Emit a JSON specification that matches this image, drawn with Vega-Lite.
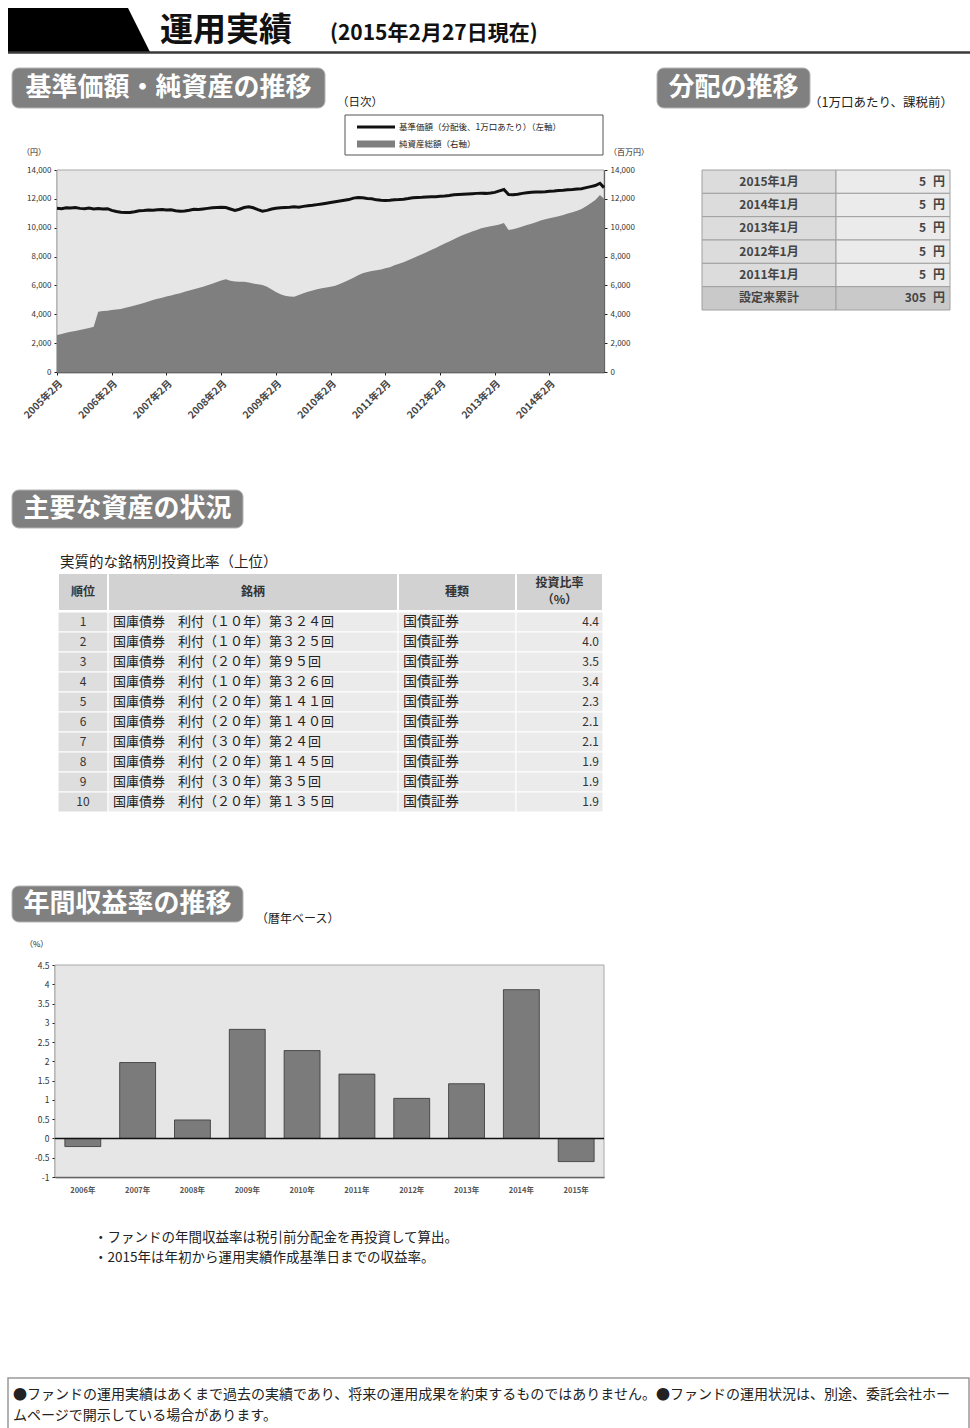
{
"$schema": "https://vega.github.io/schema/vega-lite/v6.json",
"width": 970, "height": 1428,
"autosize": {"type": "none"},
"padding": 0,
"background": "#ffffff",
"config": {
  "view": {"stroke": null},
  "font": "Noto Sans CJK JP",
  "text": {"font": "Noto Sans CJK JP", "color": "#222"},
  "axis": {"labelFont": "Noto Sans CJK JP", "titleFont": "Noto Sans CJK JP", "grid": false, "labelColor": "#333", "domainColor": "#222", "tickColor": "#222", "labelFontSize": 8}
},
"data": {"values": [{}]},
"datasets": {
  "fund": [
    {"日付":"2005-02-28","基準価額":11350,"純資産総額":2560},
    {"日付":"2005-03-31","基準価額":11320,"純資産総額":2640},
    {"日付":"2005-04-30","基準価額":11380,"純資産総額":2720},
    {"日付":"2005-05-31","基準価額":11360,"純資産総額":2790},
    {"日付":"2005-06-30","基準価額":11400,"純資産総額":2850},
    {"日付":"2005-07-31","基準価額":11340,"純資産総額":2910},
    {"日付":"2005-08-31","基準価額":11310,"純資産総額":2980},
    {"日付":"2005-09-30","基準価額":11360,"純資産総額":3050},
    {"日付":"2005-10-31","基準価額":11300,"純資産総額":3140},
    {"日付":"2005-11-30","基準価額":11330,"純資産総額":4180},
    {"日付":"2005-12-31","基準価額":11290,"純資産総額":4220},
    {"日付":"2006-01-31","基準価額":11320,"純資産総額":4250},
    {"日付":"2006-02-28","基準価額":11200,"純資産総額":4290},
    {"日付":"2006-03-31","基準価額":11120,"純資産総額":4330},
    {"日付":"2006-04-30","基準価額":11080,"純資産総額":4370},
    {"日付":"2006-05-31","基準価額":11060,"純資産総額":4450},
    {"日付":"2006-06-30","基準価額":11050,"純資産総額":4530},
    {"日付":"2006-07-31","基準価額":11110,"純資産総額":4610},
    {"日付":"2006-08-31","基準価額":11180,"純資産総額":4700},
    {"日付":"2006-09-30","基準価額":11200,"純資産総額":4780},
    {"日付":"2006-10-31","基準価額":11230,"純資産総額":4880},
    {"日付":"2006-11-30","基準価額":11210,"純資産総額":4990},
    {"日付":"2006-12-31","基準価額":11250,"純資産総額":5070},
    {"日付":"2007-01-31","基準価額":11260,"純資産総額":5150},
    {"日付":"2007-02-28","基準価額":11220,"純資産総額":5230},
    {"日付":"2007-03-31","基準価額":11240,"純資産総額":5310},
    {"日付":"2007-04-30","基準価額":11180,"純資産総額":5380},
    {"日付":"2007-05-31","基準価額":11140,"純資産総額":5450},
    {"日付":"2007-06-30","基準価額":11160,"純資産総額":5560},
    {"日付":"2007-07-31","基準価額":11210,"純資産総額":5650},
    {"日付":"2007-08-31","基準価額":11280,"純資産総額":5740},
    {"日付":"2007-09-30","基準価額":11260,"純資産総額":5820},
    {"日付":"2007-10-31","基準価額":11300,"純資産総額":5900},
    {"日付":"2007-11-30","基準価額":11340,"純資産総額":6010},
    {"日付":"2007-12-31","基準価額":11380,"純資産総額":6120},
    {"日付":"2008-01-31","基準価額":11400,"純資産総額":6240},
    {"日付":"2008-02-29","基準価額":11420,"純資産総額":6350},
    {"日付":"2008-03-31","基準価額":11400,"純資産総額":6420},
    {"日付":"2008-04-30","基準価額":11300,"純資産総額":6330},
    {"日付":"2008-05-31","基準価額":11200,"純資産総額":6270},
    {"日付":"2008-06-30","基準価額":11280,"純資産総額":6250},
    {"日付":"2008-07-31","基準価額":11400,"純資産総額":6260},
    {"日付":"2008-08-31","基準価額":11450,"純資産総額":6200},
    {"日付":"2008-09-30","基準価額":11380,"純資産総額":6130},
    {"日付":"2008-10-31","基準価額":11250,"純資産総額":6080},
    {"日付":"2008-11-30","基準価額":11150,"純資産総額":6030},
    {"日付":"2008-12-31","基準価額":11200,"純資産総額":5900},
    {"日付":"2009-01-31","基準価額":11300,"純資産総額":5720},
    {"日付":"2009-02-28","基準価額":11350,"純資産総額":5540},
    {"日付":"2009-03-31","基準価額":11380,"純資産総額":5380},
    {"日付":"2009-04-30","基準価額":11400,"純資産総額":5280},
    {"日付":"2009-05-31","基準価額":11420,"純資産総額":5240},
    {"日付":"2009-06-30","基準価額":11450,"純資産総額":5220},
    {"日付":"2009-07-31","基準価額":11420,"純資産総額":5340},
    {"日付":"2009-08-31","基準価額":11480,"純資産総額":5460},
    {"日付":"2009-09-30","基準価額":11520,"純資産総額":5560},
    {"日付":"2009-10-31","基準価額":11550,"純資産総額":5640},
    {"日付":"2009-11-30","基準価額":11600,"純資産総額":5730},
    {"日付":"2009-12-31","基準価額":11650,"純資産総額":5800},
    {"日付":"2010-01-31","基準価額":11700,"純資産総額":5860},
    {"日付":"2010-02-28","基準価額":11750,"純資産総額":5910},
    {"日付":"2010-03-31","基準価額":11800,"純資産総額":5980},
    {"日付":"2010-04-30","基準価額":11850,"純資産総額":6100},
    {"日付":"2010-05-31","基準価額":11900,"純資産総額":6230},
    {"日付":"2010-06-30","基準価額":11950,"純資産総額":6380},
    {"日付":"2010-07-31","基準価額":12050,"純資産総額":6540},
    {"日付":"2010-08-31","基準価額":12100,"純資産総額":6700},
    {"日付":"2010-09-30","基準価額":12080,"純資産総額":6840},
    {"日付":"2010-10-31","基準価額":12030,"純資産総額":6930},
    {"日付":"2010-11-30","基準価額":12000,"純資産総額":7000},
    {"日付":"2010-12-31","基準価額":11930,"純資産総額":7050},
    {"日付":"2011-01-31","基準価額":11900,"純資産総額":7110},
    {"日付":"2011-02-28","基準価額":11880,"純資産総額":7190},
    {"日付":"2011-03-31","基準価額":11900,"純資産総額":7260},
    {"日付":"2011-04-30","基準価額":11930,"純資産総額":7400},
    {"日付":"2011-05-31","基準価額":11950,"純資産総額":7500},
    {"日付":"2011-06-30","基準価額":11980,"純資産総額":7600},
    {"日付":"2011-07-31","基準価額":12020,"純資産総額":7740},
    {"日付":"2011-08-31","基準価額":12080,"純資産総額":7880},
    {"日付":"2011-09-30","基準価額":12100,"純資産総額":8020},
    {"日付":"2011-10-31","基準価額":12110,"純資産総額":8160},
    {"日付":"2011-11-30","基準価額":12130,"純資産総額":8300},
    {"日付":"2011-12-31","基準価額":12150,"純資産総額":8450},
    {"日付":"2012-01-31","基準価額":12150,"純資産総額":8600},
    {"日付":"2012-02-29","基準価額":12180,"純資産総額":8750},
    {"日付":"2012-03-31","基準価額":12200,"純資産総額":8900},
    {"日付":"2012-04-30","基準価額":12230,"純資産総額":9050},
    {"日付":"2012-05-31","基準価額":12280,"純資産総額":9200},
    {"日付":"2012-06-30","基準価額":12300,"純資産総額":9350},
    {"日付":"2012-07-31","基準価額":12320,"純資産総額":9500},
    {"日付":"2012-08-31","基準価額":12340,"純資産総額":9620},
    {"日付":"2012-09-30","基準価額":12360,"純資産総額":9740},
    {"日付":"2012-10-31","基準価額":12380,"純資産総額":9850},
    {"日付":"2012-11-30","基準価額":12390,"純資産総額":9960},
    {"日付":"2012-12-31","基準価額":12380,"純資産総額":10040},
    {"日付":"2013-01-31","基準価額":12400,"純資産総額":10100},
    {"日付":"2013-02-28","基準価額":12450,"純資産総額":10160},
    {"日付":"2013-03-31","基準価額":12550,"純資産総額":10220},
    {"日付":"2013-04-30","基準価額":12650,"純資産総額":10320},
    {"日付":"2013-05-31","基準価額":12300,"純資産総額":9840},
    {"日付":"2013-06-30","基準価額":12280,"純資産総額":9900},
    {"日付":"2013-07-31","基準価額":12320,"純資産総額":9980},
    {"日付":"2013-08-31","基準価額":12380,"純資産総額":10080},
    {"日付":"2013-09-30","基準価額":12420,"純資産総額":10180},
    {"日付":"2013-10-31","基準価額":12450,"純資産総額":10280},
    {"日付":"2013-11-30","基準価額":12470,"純資産総額":10380},
    {"日付":"2013-12-31","基準価額":12480,"純資産総額":10500},
    {"日付":"2014-01-31","基準価額":12500,"純資産総額":10580},
    {"日付":"2014-02-28","基準価額":12530,"純資産総額":10650},
    {"日付":"2014-03-31","基準価額":12550,"純資産総額":10720},
    {"日付":"2014-04-30","基準価額":12580,"純資産総額":10800},
    {"日付":"2014-05-31","基準価額":12600,"純資産総額":10880},
    {"日付":"2014-06-30","基準価額":12630,"純資産総額":10980},
    {"日付":"2014-07-31","基準価額":12650,"純資産総額":11080},
    {"日付":"2014-08-31","基準価額":12680,"純資産総額":11180},
    {"日付":"2014-09-30","基準価額":12700,"純資産総額":11300},
    {"日付":"2014-10-31","基準価額":12780,"純資産総額":11480},
    {"日付":"2014-11-30","基準価額":12850,"純資産総額":11700},
    {"日付":"2014-12-31","基準価額":12920,"純資産総額":11920},
    {"日付":"2015-01-31","基準価額":13080,"純資産総額":12270},
    {"日付":"2015-02-27","基準価額":12780,"純資産総額":12000}
  ],
  "dist": [
    {"決算期":"2015年1月","分配金":5},
    {"決算期":"2014年1月","分配金":5},
    {"決算期":"2013年1月","分配金":5},
    {"決算期":"2012年1月","分配金":5},
    {"決算期":"2011年1月","分配金":5},
    {"決算期":"設定来累計","分配金":305}
  ],
  "holdings": [
    {"順位":1,"銘柄":"国庫債券　利付（１０年）第３２４回","種類":"国債証券","投資比率":4.4},
    {"順位":2,"銘柄":"国庫債券　利付（１０年）第３２５回","種類":"国債証券","投資比率":4.0},
    {"順位":3,"銘柄":"国庫債券　利付（２０年）第９５回","種類":"国債証券","投資比率":3.5},
    {"順位":4,"銘柄":"国庫債券　利付（１０年）第３２６回","種類":"国債証券","投資比率":3.4},
    {"順位":5,"銘柄":"国庫債券　利付（２０年）第１４１回","種類":"国債証券","投資比率":2.3},
    {"順位":6,"銘柄":"国庫債券　利付（２０年）第１４０回","種類":"国債証券","投資比率":2.1},
    {"順位":7,"銘柄":"国庫債券　利付（３０年）第２４回","種類":"国債証券","投資比率":2.1},
    {"順位":8,"銘柄":"国庫債券　利付（２０年）第１４５回","種類":"国債証券","投資比率":1.9},
    {"順位":9,"銘柄":"国庫債券　利付（３０年）第３５回","種類":"国債証券","投資比率":1.9},
    {"順位":10,"銘柄":"国庫債券　利付（２０年）第１３５回","種類":"国債証券","投資比率":1.9}
  ],
  "returns": [
    {"年":"2006年","収益率":-0.21},
    {"年":"2007年","収益率":1.97},
    {"年":"2008年","収益率":0.48},
    {"年":"2009年","収益率":2.83},
    {"年":"2010年","収益率":2.28},
    {"年":"2011年","収益率":1.67},
    {"年":"2012年","収益率":1.04},
    {"年":"2013年","収益率":1.42},
    {"年":"2014年","収益率":3.86},
    {"年":"2015年","収益率":-0.60}
  ]
},
"resolve": {"scale": {"x": "independent", "y": "independent"}, "axis": {"x": "independent", "y": "independent"}},
"layer": [
  {
    "layer": [
      {"mark": {"type": "point", "shape": "M-1,-0.31L0.69,-0.31L1,0.31L-1,0.31Z", "size": 20164, "filled": true, "fill": "#000000", "opacity": 1, "strokeWidth": 0},
       "encoding": {"x": {"datum": 79, "type": "quantitative", "scale": {"domain": [0, 970], "range": [0, 970], "nice": false, "zero": false}, "axis": null},
                    "y": {"datum": 30, "type": "quantitative", "scale": {"domain": [0, 1428], "range": [0, 1428], "nice": false, "zero": false}, "axis": null}}},
      {"mark": {"type": "rule", "stroke": "#3a3a3a", "strokeWidth": 2.5},
       "encoding": {"x": {"datum": 8, "type": "quantitative", "scale": {"domain": [0, 970], "range": [0, 970], "nice": false, "zero": false}, "axis": null}, "x2": {"datum": 970},
                    "y": {"datum": 52.5, "type": "quantitative", "scale": {"domain": [0, 1428], "range": [0, 1428], "nice": false, "zero": false}, "axis": null}}},
      {"mark": {"type": "text", "align": "left", "baseline": "middle", "fontSize": 33, "fontWeight": "bold", "color": "#111"},
       "encoding": {"x": {"datum": 160, "type": "quantitative", "scale": {"domain": [0, 970], "range": [0, 970], "nice": false, "zero": false}, "axis": null},
                    "y": {"datum": 31, "type": "quantitative", "scale": {"domain": [0, 1428], "range": [0, 1428], "nice": false, "zero": false}, "axis": null},
                    "text": {"value": "運用実績"}}},
      {"mark": {"type": "text", "align": "left", "baseline": "middle", "fontSize": 21, "fontWeight": "bold", "color": "#111"},
       "encoding": {"x": {"datum": 330, "type": "quantitative", "scale": {"domain": [0, 970], "range": [0, 970], "nice": false, "zero": false}, "axis": null},
                    "y": {"datum": 34, "type": "quantitative", "scale": {"domain": [0, 1428], "range": [0, 1428], "nice": false, "zero": false}, "axis": null},
                    "text": {"value": "(2015年2月27日現在)"}}},
      {"mark": {"type": "rect", "fill": "#808080", "stroke": "#b5b5b5", "strokeWidth": 1, "cornerRadius": 7},
       "encoding": {"x": {"datum": 12, "type": "quantitative", "scale": {"domain": [0, 970], "range": [0, 970], "nice": false, "zero": false}, "axis": null}, "x2": {"datum": 325},
                    "y": {"datum": 68, "type": "quantitative", "scale": {"domain": [0, 1428], "range": [0, 1428], "nice": false, "zero": false}, "axis": null}, "y2": {"datum": 108}}},
      {"mark": {"type": "rect", "fill": "#808080", "stroke": "#b5b5b5", "strokeWidth": 1, "cornerRadius": 7},
       "encoding": {"x": {"datum": 657, "type": "quantitative", "scale": {"domain": [0, 970], "range": [0, 970], "nice": false, "zero": false}, "axis": null}, "x2": {"datum": 810},
                    "y": {"datum": 68, "type": "quantitative", "scale": {"domain": [0, 1428], "range": [0, 1428], "nice": false, "zero": false}, "axis": null}, "y2": {"datum": 108}}},
      {"mark": {"type": "rect", "fill": "#808080", "stroke": "#b5b5b5", "strokeWidth": 1, "cornerRadius": 7},
       "encoding": {"x": {"datum": 12, "type": "quantitative", "scale": {"domain": [0, 970], "range": [0, 970], "nice": false, "zero": false}, "axis": null}, "x2": {"datum": 243},
                    "y": {"datum": 490, "type": "quantitative", "scale": {"domain": [0, 1428], "range": [0, 1428], "nice": false, "zero": false}, "axis": null}, "y2": {"datum": 528}}},
      {"mark": {"type": "rect", "fill": "#808080", "stroke": "#b5b5b5", "strokeWidth": 1, "cornerRadius": 7},
       "encoding": {"x": {"datum": 12, "type": "quantitative", "scale": {"domain": [0, 970], "range": [0, 970], "nice": false, "zero": false}, "axis": null}, "x2": {"datum": 243},
                    "y": {"datum": 886, "type": "quantitative", "scale": {"domain": [0, 1428], "range": [0, 1428], "nice": false, "zero": false}, "axis": null}, "y2": {"datum": 922}}},
      {"mark": {"type": "text", "align": "center", "baseline": "middle", "fontSize": 26, "fontWeight": "bold", "color": "#ffffff"},
       "encoding": {"x": {"datum": 168.5, "type": "quantitative", "scale": {"domain": [0, 970], "range": [0, 970], "nice": false, "zero": false}, "axis": null},
                    "y": {"datum": 88, "type": "quantitative", "scale": {"domain": [0, 1428], "range": [0, 1428], "nice": false, "zero": false}, "axis": null},
                    "text": {"value": "基準価額・純資産の推移"}}},
      {"mark": {"type": "text", "align": "center", "baseline": "middle", "fontSize": 26, "fontWeight": "bold", "color": "#ffffff"},
       "encoding": {"x": {"datum": 733.5, "type": "quantitative", "scale": {"domain": [0, 970], "range": [0, 970], "nice": false, "zero": false}, "axis": null},
                    "y": {"datum": 88, "type": "quantitative", "scale": {"domain": [0, 1428], "range": [0, 1428], "nice": false, "zero": false}, "axis": null},
                    "text": {"value": "分配の推移"}}},
      {"mark": {"type": "text", "align": "center", "baseline": "middle", "fontSize": 26, "fontWeight": "bold", "color": "#ffffff"},
       "encoding": {"x": {"datum": 127.5, "type": "quantitative", "scale": {"domain": [0, 970], "range": [0, 970], "nice": false, "zero": false}, "axis": null},
                    "y": {"datum": 509, "type": "quantitative", "scale": {"domain": [0, 1428], "range": [0, 1428], "nice": false, "zero": false}, "axis": null},
                    "text": {"value": "主要な資産の状況"}}},
      {"mark": {"type": "text", "align": "center", "baseline": "middle", "fontSize": 26, "fontWeight": "bold", "color": "#ffffff"},
       "encoding": {"x": {"datum": 127.5, "type": "quantitative", "scale": {"domain": [0, 970], "range": [0, 970], "nice": false, "zero": false}, "axis": null},
                    "y": {"datum": 904, "type": "quantitative", "scale": {"domain": [0, 1428], "range": [0, 1428], "nice": false, "zero": false}, "axis": null},
                    "text": {"value": "年間収益率の推移"}}},
      {"mark": {"type": "text", "align": "left", "baseline": "middle", "fontSize": 11.5},
       "encoding": {"x": {"datum": 337, "type": "quantitative", "scale": {"domain": [0, 970], "range": [0, 970], "nice": false, "zero": false}, "axis": null},
                    "y": {"datum": 103, "type": "quantitative", "scale": {"domain": [0, 1428], "range": [0, 1428], "nice": false, "zero": false}, "axis": null},
                    "text": {"value": "（日次）"}}},
      {"mark": {"type": "text", "align": "left", "baseline": "middle", "fontSize": 12.5},
       "encoding": {"x": {"datum": 809, "type": "quantitative", "scale": {"domain": [0, 970], "range": [0, 970], "nice": false, "zero": false}, "axis": null},
                    "y": {"datum": 103, "type": "quantitative", "scale": {"domain": [0, 1428], "range": [0, 1428], "nice": false, "zero": false}, "axis": null},
                    "text": {"value": "（1万口あたり、課税前）"}}},
      {"mark": {"type": "text", "align": "left", "baseline": "middle", "fontSize": 12},
       "encoding": {"x": {"datum": 256, "type": "quantitative", "scale": {"domain": [0, 970], "range": [0, 970], "nice": false, "zero": false}, "axis": null},
                    "y": {"datum": 919, "type": "quantitative", "scale": {"domain": [0, 1428], "range": [0, 1428], "nice": false, "zero": false}, "axis": null},
                    "text": {"value": "（暦年ベース）"}}},
      {"mark": {"type": "text", "align": "left", "baseline": "middle", "fontSize": 8},
       "encoding": {"x": {"datum": 22, "type": "quantitative", "scale": {"domain": [0, 970], "range": [0, 970], "nice": false, "zero": false}, "axis": null},
                    "y": {"datum": 153, "type": "quantitative", "scale": {"domain": [0, 1428], "range": [0, 1428], "nice": false, "zero": false}, "axis": null},
                    "text": {"value": "（円）"}}},
      {"mark": {"type": "text", "align": "left", "baseline": "middle", "fontSize": 8},
       "encoding": {"x": {"datum": 609, "type": "quantitative", "scale": {"domain": [0, 970], "range": [0, 970], "nice": false, "zero": false}, "axis": null},
                    "y": {"datum": 153, "type": "quantitative", "scale": {"domain": [0, 1428], "range": [0, 1428], "nice": false, "zero": false}, "axis": null},
                    "text": {"value": "（百万円）"}}},
      {"mark": {"type": "text", "align": "left", "baseline": "middle", "fontSize": 8},
       "encoding": {"x": {"datum": 25, "type": "quantitative", "scale": {"domain": [0, 970], "range": [0, 970], "nice": false, "zero": false}, "axis": null},
                    "y": {"datum": 945, "type": "quantitative", "scale": {"domain": [0, 1428], "range": [0, 1428], "nice": false, "zero": false}, "axis": null},
                    "text": {"value": "（%）"}}},
      {"mark": {"type": "rect", "fill": "#ffffff", "stroke": "#555555", "strokeWidth": 1},
       "encoding": {"x": {"datum": 345, "type": "quantitative", "scale": {"domain": [0, 970], "range": [0, 970], "nice": false, "zero": false}, "axis": null}, "x2": {"datum": 603},
                    "y": {"datum": 115, "type": "quantitative", "scale": {"domain": [0, 1428], "range": [0, 1428], "nice": false, "zero": false}, "axis": null}, "y2": {"datum": 155}}},
      {"mark": {"type": "rule", "stroke": "#111111", "strokeWidth": 3},
       "encoding": {"x": {"datum": 357, "type": "quantitative", "scale": {"domain": [0, 970], "range": [0, 970], "nice": false, "zero": false}, "axis": null}, "x2": {"datum": 395},
                    "y": {"datum": 127, "type": "quantitative", "scale": {"domain": [0, 1428], "range": [0, 1428], "nice": false, "zero": false}, "axis": null}}},
      {"mark": {"type": "rule", "stroke": "#7f7f7f", "strokeWidth": 7},
       "encoding": {"x": {"datum": 357, "type": "quantitative", "scale": {"domain": [0, 970], "range": [0, 970], "nice": false, "zero": false}, "axis": null}, "x2": {"datum": 395},
                    "y": {"datum": 144, "type": "quantitative", "scale": {"domain": [0, 1428], "range": [0, 1428], "nice": false, "zero": false}, "axis": null}}},
      {"mark": {"type": "text", "align": "left", "baseline": "middle", "fontSize": 8.5},
       "encoding": {"x": {"datum": 399, "type": "quantitative", "scale": {"domain": [0, 970], "range": [0, 970], "nice": false, "zero": false}, "axis": null},
                    "y": {"datum": 127, "type": "quantitative", "scale": {"domain": [0, 1428], "range": [0, 1428], "nice": false, "zero": false}, "axis": null},
                    "text": {"value": "基準価額（分配後、1万口あたり）（左軸）"}}},
      {"mark": {"type": "text", "align": "left", "baseline": "middle", "fontSize": 8.5},
       "encoding": {"x": {"datum": 399, "type": "quantitative", "scale": {"domain": [0, 970], "range": [0, 970], "nice": false, "zero": false}, "axis": null},
                    "y": {"datum": 144, "type": "quantitative", "scale": {"domain": [0, 1428], "range": [0, 1428], "nice": false, "zero": false}, "axis": null},
                    "text": {"value": "純資産総額（右軸）"}}},
      {"mark": {"type": "text", "align": "left", "baseline": "middle", "fontSize": 14.5},
       "encoding": {"x": {"datum": 60, "type": "quantitative", "scale": {"domain": [0, 970], "range": [0, 970], "nice": false, "zero": false}, "axis": null},
                    "y": {"datum": 563, "type": "quantitative", "scale": {"domain": [0, 1428], "range": [0, 1428], "nice": false, "zero": false}, "axis": null},
                    "text": {"value": "実質的な銘柄別投資比率（上位）"}}},
      {"mark": {"type": "text", "align": "left", "baseline": "middle", "fontSize": 13.5},
       "encoding": {"x": {"datum": 94, "type": "quantitative", "scale": {"domain": [0, 970], "range": [0, 970], "nice": false, "zero": false}, "axis": null},
                    "y": {"datum": 1238, "type": "quantitative", "scale": {"domain": [0, 1428], "range": [0, 1428], "nice": false, "zero": false}, "axis": null},
                    "text": {"value": "・ファンドの年間収益率は税引前分配金を再投資して算出。"}}},
      {"mark": {"type": "text", "align": "left", "baseline": "middle", "fontSize": 13.5},
       "encoding": {"x": {"datum": 94, "type": "quantitative", "scale": {"domain": [0, 970], "range": [0, 970], "nice": false, "zero": false}, "axis": null},
                    "y": {"datum": 1258, "type": "quantitative", "scale": {"domain": [0, 1428], "range": [0, 1428], "nice": false, "zero": false}, "axis": null},
                    "text": {"value": "・2015年は年初から運用実績作成基準日までの収益率。"}}},
      {"mark": {"type": "rect", "fillOpacity": 0, "stroke": "#999999", "strokeWidth": 1.5},
       "encoding": {"x": {"datum": 8, "type": "quantitative", "scale": {"domain": [0, 970], "range": [0, 970], "nice": false, "zero": false}, "axis": null}, "x2": {"datum": 969},
                    "y": {"datum": 1378, "type": "quantitative", "scale": {"domain": [0, 1428], "range": [0, 1428], "nice": false, "zero": false}, "axis": null}, "y2": {"datum": 1445}}},
      {"mark": {"type": "text", "align": "left", "baseline": "middle", "fontSize": 14},
       "encoding": {"x": {"datum": 13, "type": "quantitative", "scale": {"domain": [0, 970], "range": [0, 970], "nice": false, "zero": false}, "axis": null},
                    "y": {"datum": 1395, "type": "quantitative", "scale": {"domain": [0, 1428], "range": [0, 1428], "nice": false, "zero": false}, "axis": null},
                    "text": {"value": "●ファンドの運用実績はあくまで過去の実績であり、将来の運用成果を約束するものではありません。●ファンドの運用状況は、別途、委託会社ホー"}}},
      {"mark": {"type": "text", "align": "left", "baseline": "middle", "fontSize": 14},
       "encoding": {"x": {"datum": 13, "type": "quantitative", "scale": {"domain": [0, 970], "range": [0, 970], "nice": false, "zero": false}, "axis": null},
                    "y": {"datum": 1416, "type": "quantitative", "scale": {"domain": [0, 1428], "range": [0, 1428], "nice": false, "zero": false}, "axis": null},
                    "text": {"value": "ムページで開示している場合があります。"}}}
    ]
  },
  {
    "resolve": {"scale": {"y": "independent"}, "axis": {"y": "independent"}},
    "layer": [
      {"mark": {"type": "rect", "fill": "#e6e6e6", "stroke": "#a8a8a8", "strokeWidth": 1},
       "encoding": {
         "x": {"datum": {"year": 2005, "month": 2, "date": 28, "utc": true}, "type": "temporal", "scale": {"type": "utc", "domain": [{"year": 2005, "month": 2, "date": 28, "utc": true}, {"year": 2015, "month": 2, "date": 27, "utc": true}], "range": [57, 604], "nice": false}, "title": null,
               "axis": {"orient": "bottom", "offset": -1056, "labelAngle": -45, "labelFontSize": 10, "labelFontWeight": "bold", "labelColor": "#444", "tickSize": 3, "labelPadding": 3, "domainWidth": 1.5,
                        "values": [{"year": 2005, "month": 2, "date": 28, "utc": true}, {"year": 2006, "month": 2, "date": 28, "utc": true}, {"year": 2007, "month": 2, "date": 28, "utc": true}, {"year": 2008, "month": 2, "date": 29, "utc": true}, {"year": 2009, "month": 2, "date": 28, "utc": true}, {"year": 2010, "month": 2, "date": 28, "utc": true}, {"year": 2011, "month": 2, "date": 28, "utc": true}, {"year": 2012, "month": 2, "date": 29, "utc": true}, {"year": 2013, "month": 2, "date": 28, "utc": true}, {"year": 2014, "month": 2, "date": 28, "utc": true}],
                        "labelExpr": "utcFormat(datum.value, '%Y年%-m月')"}},
         "x2": {"datum": {"year": 2015, "month": 2, "date": 27, "utc": true}},
         "y": {"datum": 0, "type": "quantitative", "scale": {"domain": [0, 14000], "range": [372, 170], "nice": false, "zero": false}, "axis": null},
         "y2": {"datum": 14000}}},
      {"data": {"name": "fund"},
       "mark": {"type": "area", "fill": "#7f7f7f", "opacity": 1},
       "encoding": {
         "x": {"field": "日付", "type": "temporal", "scale": {"type": "utc", "domain": [{"year": 2005, "month": 2, "date": 28, "utc": true}, {"year": 2015, "month": 2, "date": 27, "utc": true}], "range": [57, 604], "nice": false}, "title": null,
               "axis": {"orient": "bottom", "offset": -1056, "labelAngle": -45, "labelFontSize": 10, "labelFontWeight": "bold", "labelColor": "#444", "tickSize": 3, "labelPadding": 3, "domainWidth": 1.5,
                        "values": [{"year": 2005, "month": 2, "date": 28, "utc": true}, {"year": 2006, "month": 2, "date": 28, "utc": true}, {"year": 2007, "month": 2, "date": 28, "utc": true}, {"year": 2008, "month": 2, "date": 29, "utc": true}, {"year": 2009, "month": 2, "date": 28, "utc": true}, {"year": 2010, "month": 2, "date": 28, "utc": true}, {"year": 2011, "month": 2, "date": 28, "utc": true}, {"year": 2012, "month": 2, "date": 29, "utc": true}, {"year": 2013, "month": 2, "date": 28, "utc": true}, {"year": 2014, "month": 2, "date": 28, "utc": true}],
                        "labelExpr": "utcFormat(datum.value, '%Y年%-m月')"}},
         "y": {"field": "純資産総額", "type": "quantitative", "scale": {"domain": [0, 14000], "range": [372, 170], "nice": false}, "title": null,
               "axis": {"orient": "right", "offset": -366, "values": [0, 2000, 4000, 6000, 8000, 10000, 12000, 14000], "labelExpr": "format(datum.value, ',')", "tickSize": 3, "labelPadding": 3, "labelFontSize": 8, "domainWidth": 1.2}}}},
      {"data": {"name": "fund"},
       "mark": {"type": "line", "stroke": "#111111", "strokeWidth": 3},
       "encoding": {
         "x": {"field": "日付", "type": "temporal", "scale": {"type": "utc", "domain": [{"year": 2005, "month": 2, "date": 28, "utc": true}, {"year": 2015, "month": 2, "date": 27, "utc": true}], "range": [57, 604], "nice": false}, "title": null,
               "axis": {"orient": "bottom", "offset": -1056, "labelAngle": -45, "labelFontSize": 10, "labelFontWeight": "bold", "labelColor": "#444", "tickSize": 3, "labelPadding": 3, "domainWidth": 1.5,
                        "values": [{"year": 2005, "month": 2, "date": 28, "utc": true}, {"year": 2006, "month": 2, "date": 28, "utc": true}, {"year": 2007, "month": 2, "date": 28, "utc": true}, {"year": 2008, "month": 2, "date": 29, "utc": true}, {"year": 2009, "month": 2, "date": 28, "utc": true}, {"year": 2010, "month": 2, "date": 28, "utc": true}, {"year": 2011, "month": 2, "date": 28, "utc": true}, {"year": 2012, "month": 2, "date": 29, "utc": true}, {"year": 2013, "month": 2, "date": 28, "utc": true}, {"year": 2014, "month": 2, "date": 28, "utc": true}],
                        "labelExpr": "utcFormat(datum.value, '%Y年%-m月')"}},
         "y": {"field": "基準価額", "type": "quantitative", "scale": {"domain": [0, 14000], "range": [372, 170], "nice": false}, "title": null,
               "axis": {"orient": "left", "offset": -57, "values": [0, 2000, 4000, 6000, 8000, 10000, 12000, 14000], "labelExpr": "format(datum.value, ',')", "tickSize": 3, "labelPadding": 3, "labelFontSize": 8, "domainWidth": 1.5}}}}
    ]
  },
  {
    "data": {"name": "dist"},
    "layer": [
      {"mark": {"type": "rect", "stroke": "#a0a0a0", "strokeWidth": 1},
       "encoding": {
         "x": {"datum": 0, "type": "quantitative", "scale": {"domain": [0, 1, 2], "range": [702, 836, 950], "nice": false, "zero": false}, "axis": null},
         "x2": {"datum": 1},
         "y": {"field": "決算期", "type": "nominal", "scale": {"type": "band", "domain": ["2015年1月", "2014年1月", "2013年1月", "2012年1月", "2011年1月", "設定来累計"], "range": [170, 310], "paddingInner": 0, "paddingOuter": 0}, "axis": null},
         "fill": {"condition": {"test": "datum['決算期'] === '設定来累計'", "value": "#c9c9c9"}, "value": "#dcdcdc"}}},
      {"mark": {"type": "rect", "stroke": "#a0a0a0", "strokeWidth": 1},
       "encoding": {
         "x": {"datum": 1, "type": "quantitative", "scale": {"domain": [0, 1, 2], "range": [702, 836, 950], "nice": false, "zero": false}, "axis": null},
         "x2": {"datum": 2},
         "y": {"field": "決算期", "type": "nominal", "scale": {"type": "band", "domain": ["2015年1月", "2014年1月", "2013年1月", "2012年1月", "2011年1月", "設定来累計"], "range": [170, 310], "paddingInner": 0, "paddingOuter": 0}, "axis": null},
         "fill": {"condition": {"test": "datum['決算期'] === '設定来累計'", "value": "#c9c9c9"}, "value": "#ebebeb"}}},
      {"mark": {"type": "text", "align": "center", "baseline": "middle", "fontSize": 12, "fontWeight": "bold", "color": "#444"},
       "encoding": {
         "x": {"datum": 0.5, "type": "quantitative", "scale": {"domain": [0, 1, 2], "range": [702, 836, 950], "nice": false, "zero": false}, "axis": null},
         "y": {"field": "決算期", "type": "nominal", "scale": {"type": "band", "domain": ["2015年1月", "2014年1月", "2013年1月", "2012年1月", "2011年1月", "設定来累計"], "range": [170, 310], "paddingInner": 0, "paddingOuter": 0}, "axis": null},
         "text": {"field": "決算期"}}},
      {"mark": {"type": "text", "align": "right", "baseline": "middle", "fontSize": 12, "fontWeight": "bold", "color": "#444", "dx": -24},
       "encoding": {
         "x": {"datum": 2, "type": "quantitative", "scale": {"domain": [0, 1, 2], "range": [702, 836, 950], "nice": false, "zero": false}, "axis": null},
         "y": {"field": "決算期", "type": "nominal", "scale": {"type": "band", "domain": ["2015年1月", "2014年1月", "2013年1月", "2012年1月", "2011年1月", "設定来累計"], "range": [170, 310], "paddingInner": 0, "paddingOuter": 0}, "axis": null},
         "text": {"field": "分配金", "type": "quantitative", "format": "d"}}},
      {"mark": {"type": "text", "align": "right", "baseline": "middle", "fontSize": 12, "fontWeight": "bold", "color": "#444", "dx": -5},
       "encoding": {
         "x": {"datum": 2, "type": "quantitative", "scale": {"domain": [0, 1, 2], "range": [702, 836, 950], "nice": false, "zero": false}, "axis": null},
         "y": {"field": "決算期", "type": "nominal", "scale": {"type": "band", "domain": ["2015年1月", "2014年1月", "2013年1月", "2012年1月", "2011年1月", "設定来累計"], "range": [170, 310], "paddingInner": 0, "paddingOuter": 0}, "axis": null},
         "text": {"value": "円"}}}
    ]
  },
  {
    "resolve": {"scale": {"y": "independent"}},
    "layer": [
      {
        "layer": [
          {"mark": {"type": "rect", "fill": "#d2d2d2", "stroke": "#ffffff", "strokeWidth": 2},
           "encoding": {"x": {"datum": 0, "type": "quantitative", "scale": {"domain": [0, 1, 2, 3, 4], "range": [58, 108, 398, 516, 603], "nice": false, "zero": false}, "axis": null}, "x2": {"datum": 1},
                        "y": {"datum": 0, "type": "quantitative", "scale": {"domain": [0, 1], "range": [573, 611], "nice": false, "zero": false}, "axis": null}, "y2": {"datum": 1}}},
          {"mark": {"type": "rect", "fill": "#d2d2d2", "stroke": "#ffffff", "strokeWidth": 2},
           "encoding": {"x": {"datum": 1, "type": "quantitative", "scale": {"domain": [0, 1, 2, 3, 4], "range": [58, 108, 398, 516, 603], "nice": false, "zero": false}, "axis": null}, "x2": {"datum": 2},
                        "y": {"datum": 0, "type": "quantitative", "scale": {"domain": [0, 1], "range": [573, 611], "nice": false, "zero": false}, "axis": null}, "y2": {"datum": 1}}},
          {"mark": {"type": "rect", "fill": "#d2d2d2", "stroke": "#ffffff", "strokeWidth": 2},
           "encoding": {"x": {"datum": 2, "type": "quantitative", "scale": {"domain": [0, 1, 2, 3, 4], "range": [58, 108, 398, 516, 603], "nice": false, "zero": false}, "axis": null}, "x2": {"datum": 3},
                        "y": {"datum": 0, "type": "quantitative", "scale": {"domain": [0, 1], "range": [573, 611], "nice": false, "zero": false}, "axis": null}, "y2": {"datum": 1}}},
          {"mark": {"type": "rect", "fill": "#d2d2d2", "stroke": "#ffffff", "strokeWidth": 2},
           "encoding": {"x": {"datum": 3, "type": "quantitative", "scale": {"domain": [0, 1, 2, 3, 4], "range": [58, 108, 398, 516, 603], "nice": false, "zero": false}, "axis": null}, "x2": {"datum": 4},
                        "y": {"datum": 0, "type": "quantitative", "scale": {"domain": [0, 1], "range": [573, 611], "nice": false, "zero": false}, "axis": null}, "y2": {"datum": 1}}},
          {"mark": {"type": "text", "align": "center", "baseline": "middle", "fontSize": 12, "fontWeight": "bold", "color": "#333"},
           "encoding": {"x": {"datum": 0.5, "type": "quantitative", "scale": {"domain": [0, 1, 2, 3, 4], "range": [58, 108, 398, 516, 603], "nice": false, "zero": false}, "axis": null},
                        "y": {"datum": 0.5, "type": "quantitative", "scale": {"domain": [0, 1], "range": [573, 611], "nice": false, "zero": false}, "axis": null},
                        "text": {"value": "順位"}}},
          {"mark": {"type": "text", "align": "center", "baseline": "middle", "fontSize": 12, "fontWeight": "bold", "color": "#333"},
           "encoding": {"x": {"datum": 1.5, "type": "quantitative", "scale": {"domain": [0, 1, 2, 3, 4], "range": [58, 108, 398, 516, 603], "nice": false, "zero": false}, "axis": null},
                        "y": {"datum": 0.5, "type": "quantitative", "scale": {"domain": [0, 1], "range": [573, 611], "nice": false, "zero": false}, "axis": null},
                        "text": {"value": "銘柄"}}},
          {"mark": {"type": "text", "align": "center", "baseline": "middle", "fontSize": 12, "fontWeight": "bold", "color": "#333"},
           "encoding": {"x": {"datum": 2.5, "type": "quantitative", "scale": {"domain": [0, 1, 2, 3, 4], "range": [58, 108, 398, 516, 603], "nice": false, "zero": false}, "axis": null},
                        "y": {"datum": 0.5, "type": "quantitative", "scale": {"domain": [0, 1], "range": [573, 611], "nice": false, "zero": false}, "axis": null},
                        "text": {"value": "種類"}}},
          {"mark": {"type": "text", "align": "center", "baseline": "middle", "fontSize": 12, "fontWeight": "bold", "color": "#333", "lineHeight": 17},
           "encoding": {"x": {"datum": 3.5, "type": "quantitative", "scale": {"domain": [0, 1, 2, 3, 4], "range": [58, 108, 398, 516, 603], "nice": false, "zero": false}, "axis": null},
                        "y": {"datum": 0.27, "type": "quantitative", "scale": {"domain": [0, 1], "range": [573, 611], "nice": false, "zero": false}, "axis": null},
                        "text": {"value": ["投資比率", "（%）"]}}}
        ]
      },
      {
        "data": {"name": "holdings"},
        "layer": [
          {"mark": {"type": "rect", "fill": "#dedede", "stroke": "#ffffff", "strokeWidth": 1},
           "encoding": {"x": {"datum": 0, "type": "quantitative", "scale": {"domain": [0, 1, 2, 3, 4], "range": [58, 108, 398, 516, 603], "nice": false, "zero": false}, "axis": null}, "x2": {"datum": 1},
                        "y": {"field": "順位", "type": "ordinal", "scale": {"type": "band", "domain": [1, 2, 3, 4, 5, 6, 7, 8, 9, 10], "range": [612, 812], "paddingInner": 0, "paddingOuter": 0}, "axis": null}}},
          {"mark": {"type": "rect", "fill": "#ebebeb", "stroke": "#ffffff", "strokeWidth": 1},
           "encoding": {"x": {"datum": 1, "type": "quantitative", "scale": {"domain": [0, 1, 2, 3, 4], "range": [58, 108, 398, 516, 603], "nice": false, "zero": false}, "axis": null}, "x2": {"datum": 2},
                        "y": {"field": "順位", "type": "ordinal", "scale": {"type": "band", "domain": [1, 2, 3, 4, 5, 6, 7, 8, 9, 10], "range": [612, 812], "paddingInner": 0, "paddingOuter": 0}, "axis": null}}},
          {"mark": {"type": "rect", "fill": "#ebebeb", "stroke": "#ffffff", "strokeWidth": 1},
           "encoding": {"x": {"datum": 2, "type": "quantitative", "scale": {"domain": [0, 1, 2, 3, 4], "range": [58, 108, 398, 516, 603], "nice": false, "zero": false}, "axis": null}, "x2": {"datum": 3},
                        "y": {"field": "順位", "type": "ordinal", "scale": {"type": "band", "domain": [1, 2, 3, 4, 5, 6, 7, 8, 9, 10], "range": [612, 812], "paddingInner": 0, "paddingOuter": 0}, "axis": null}}},
          {"mark": {"type": "rect", "fill": "#ebebeb", "stroke": "#ffffff", "strokeWidth": 1},
           "encoding": {"x": {"datum": 3, "type": "quantitative", "scale": {"domain": [0, 1, 2, 3, 4], "range": [58, 108, 398, 516, 603], "nice": false, "zero": false}, "axis": null}, "x2": {"datum": 4},
                        "y": {"field": "順位", "type": "ordinal", "scale": {"type": "band", "domain": [1, 2, 3, 4, 5, 6, 7, 8, 9, 10], "range": [612, 812], "paddingInner": 0, "paddingOuter": 0}, "axis": null}}},
          {"mark": {"type": "text", "align": "center", "baseline": "middle", "fontSize": 12, "color": "#333"},
           "encoding": {"x": {"datum": 0.5, "type": "quantitative", "scale": {"domain": [0, 1, 2, 3, 4], "range": [58, 108, 398, 516, 603], "nice": false, "zero": false}, "axis": null},
                        "y": {"field": "順位", "type": "ordinal", "scale": {"type": "band", "domain": [1, 2, 3, 4, 5, 6, 7, 8, 9, 10], "range": [612, 812], "paddingInner": 0, "paddingOuter": 0}, "axis": null},
                        "text": {"field": "順位"}}},
          {"mark": {"type": "text", "align": "left", "baseline": "middle", "fontSize": 13, "color": "#222", "dx": 5},
           "encoding": {"x": {"datum": 1, "type": "quantitative", "scale": {"domain": [0, 1, 2, 3, 4], "range": [58, 108, 398, 516, 603], "nice": false, "zero": false}, "axis": null},
                        "y": {"field": "順位", "type": "ordinal", "scale": {"type": "band", "domain": [1, 2, 3, 4, 5, 6, 7, 8, 9, 10], "range": [612, 812], "paddingInner": 0, "paddingOuter": 0}, "axis": null},
                        "text": {"field": "銘柄"}}},
          {"mark": {"type": "text", "align": "left", "baseline": "middle", "fontSize": 14, "color": "#222", "dx": 5},
           "encoding": {"x": {"datum": 2, "type": "quantitative", "scale": {"domain": [0, 1, 2, 3, 4], "range": [58, 108, 398, 516, 603], "nice": false, "zero": false}, "axis": null},
                        "y": {"field": "順位", "type": "ordinal", "scale": {"type": "band", "domain": [1, 2, 3, 4, 5, 6, 7, 8, 9, 10], "range": [612, 812], "paddingInner": 0, "paddingOuter": 0}, "axis": null},
                        "text": {"field": "種類"}}},
          {"mark": {"type": "text", "align": "right", "baseline": "middle", "fontSize": 12, "color": "#333", "dx": -4},
           "encoding": {"x": {"datum": 4, "type": "quantitative", "scale": {"domain": [0, 1, 2, 3, 4], "range": [58, 108, 398, 516, 603], "nice": false, "zero": false}, "axis": null},
                        "y": {"field": "順位", "type": "ordinal", "scale": {"type": "band", "domain": [1, 2, 3, 4, 5, 6, 7, 8, 9, 10], "range": [612, 812], "paddingInner": 0, "paddingOuter": 0}, "axis": null},
                        "text": {"field": "投資比率", "type": "quantitative", "format": ".1f"}}}
        ]
      }
    ]
  },
  {
    "resolve": {"scale": {"x": "independent"}, "axis": {"x": "independent"}},
    "layer": [
      {"mark": {"type": "rect", "fill": "#e6e6e6", "stroke": "#a8a8a8", "strokeWidth": 1},
       "encoding": {"x": {"datum": 0, "type": "quantitative", "scale": {"domain": [0, 1], "range": [55, 604], "nice": false, "zero": false}, "axis": null}, "x2": {"datum": 1},
                    "y": {"datum": -1, "type": "quantitative", "scale": {"domain": [-1, 4.5], "range": [1177, 965], "nice": false}, "title": null,
                          "axis": {"orient": "left", "offset": -55, "values": [-1, -0.5, 0, 0.5, 1, 1.5, 2, 2.5, 3, 3.5, 4, 4.5], "labelExpr": "datum.value + ''", "tickSize": 3, "labelPadding": 3, "labelFontSize": 8.5, "domainWidth": 1.5}},
                    "y2": {"datum": 4.5}}},
      {"data": {"name": "returns"},
       "mark": {"type": "bar", "fill": "#7b7b7b", "stroke": "#333333", "strokeWidth": 0.8},
       "encoding": {
         "x": {"field": "年", "type": "nominal", "scale": {"type": "band", "domain": ["2006年", "2007年", "2008年", "2009年", "2010年", "2011年", "2012年", "2013年", "2014年", "2015年"], "range": [55, 604], "paddingInner": 0.345, "paddingOuter": 0.18}, "title": null,
               "axis": {"orient": "bottom", "offset": -251, "labelAngle": 0, "labelFontSize": 7.5, "labelFontWeight": "bold", "labelColor": "#555", "tickSize": 0, "labelPadding": 9, "domainWidth": 1.5}},
         "y": {"field": "収益率", "type": "quantitative", "scale": {"domain": [-1, 4.5], "range": [1177, 965], "nice": false}, "title": null,
               "axis": {"orient": "left", "offset": -55, "values": [-1, -0.5, 0, 0.5, 1, 1.5, 2, 2.5, 3, 3.5, 4, 4.5], "labelExpr": "datum.value + ''", "tickSize": 3, "labelPadding": 3, "labelFontSize": 8.5, "domainWidth": 1.5}}}},
      {"mark": {"type": "rule", "stroke": "#111111", "strokeWidth": 1.5},
       "encoding": {"x": {"datum": 0, "type": "quantitative", "scale": {"domain": [0, 1], "range": [55, 604], "nice": false, "zero": false}, "axis": null}, "x2": {"datum": 1},
                    "y": {"datum": 0, "type": "quantitative", "scale": {"domain": [-1, 4.5], "range": [1177, 965], "nice": false}, "title": null,
                          "axis": {"orient": "left", "offset": -55, "values": [-1, -0.5, 0, 0.5, 1, 1.5, 2, 2.5, 3, 3.5, 4, 4.5], "labelExpr": "datum.value + ''", "tickSize": 3, "labelPadding": 3, "labelFontSize": 8.5, "domainWidth": 1.5}}}}
    ]
  }
]
}
